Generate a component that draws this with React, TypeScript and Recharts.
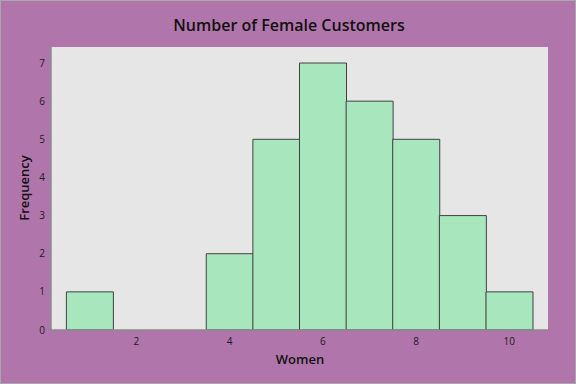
import { Bar, CartesianGrid, ComposedChart, XAxis, YAxis } from "recharts";

const women = [1, 2, 3, 4, 5, 6, 7, 8, 9, 10];
const frequency = [1, 0, 0, 2, 5, 7, 6, 5, 3, 1];
const xTicks = [2, 4, 6, 8, 10];
const yTicks = [0, 1, 2, 3, 4, 5, 6, 7];

const data = women.map((w, i) => ({ women: w, freq: frequency[i] }));

const FONT = "'Open Sans', 'Noto Sans', sans-serif";
const BG = "#b076ab";
const AXIS_LINE = "#8a8a8a";
const TICK = { fill: "#1a1a1a", fontSize: 10, fontFamily: FONT };

export default function App() {
  return (
    <div
      style={{
        position: "absolute",
        left: 0,
        top: 0,
        width: 576,
        height: 384,
        background: BG,
        border: "1px solid #a8a8a8",
        boxSizing: "border-box",
        fontFamily: FONT,
      }}
    >
      <div
        style={{
          position: "absolute",
          left: 0,
          top: 13,
          width: 576,
          textAlign: "center",
          fontSize: 16,
          fontWeight: 600,
          color: "#111",
        }}
      >
        Number of Female Customers
      </div>
      <div
        style={{
          position: "absolute",
          left: 0,
          top: 349,
          width: 598,
          textAlign: "center",
          fontSize: 13,
          fontWeight: 600,
          color: "#111",
        }}
      >
        Women
      </div>
      <div
        style={{
          position: "absolute",
          left: 23,
          top: 187,
          transform: "translate(-50%, -50%) rotate(-90deg)",
          fontSize: 13,
          fontWeight: 600,
          color: "#111",
          whiteSpace: "nowrap",
        }}
      >
        Frequency
      </div>
      <div style={{ position: "absolute", left: -1, top: -1 }}>
        <ComposedChart
          width={576}
          height={384}
          data={data}
          margin={{ top: 47, right: 28, bottom: 0, left: 0 }}
          barCategoryGap={0}
          barGap={0}
        >
          <CartesianGrid fill="#e6e6e6" horizontal={false} vertical={false} />
          <XAxis
            dataKey="women"
            type="number"
            domain={[0.17, 10.83]}
            ticks={xTicks}
            allowDataOverflow
            tick={TICK}
            tickSize={4}
            tickLine={{ stroke: AXIS_LINE }}
            axisLine={{ stroke: AXIS_LINE, strokeWidth: 1.5 }}
            height={54}
            dy={2}
          />
          <XAxis
            xAxisId="top"
            orientation="top"
            dataKey="women"
            type="number"
            domain={[0.17, 10.83]}
            tick={false}
            tickLine={false}
            axisLine={{ stroke: "#b5b5b5" }}
            height={0}
          />
          <YAxis
            domain={[0, 7.42]}
            ticks={yTicks}
            allowDataOverflow
            tick={TICK}
            tickSize={4}
            tickLine={{ stroke: AXIS_LINE }}
            axisLine={{ stroke: AXIS_LINE, strokeWidth: 1.5 }}
            width={51}
          />
          <YAxis
            yAxisId="right"
            orientation="right"
            domain={[0, 7.42]}
            tick={false}
            tickLine={false}
            axisLine={{ stroke: "#b5b5b5" }}
            width={0}
          />
          <Bar
            dataKey="freq"
            fill="#a8e6be"
            stroke="#404040"
            strokeWidth={1}
            isAnimationActive={false}
          />
        </ComposedChart>
      </div>
    </div>
  );
}
